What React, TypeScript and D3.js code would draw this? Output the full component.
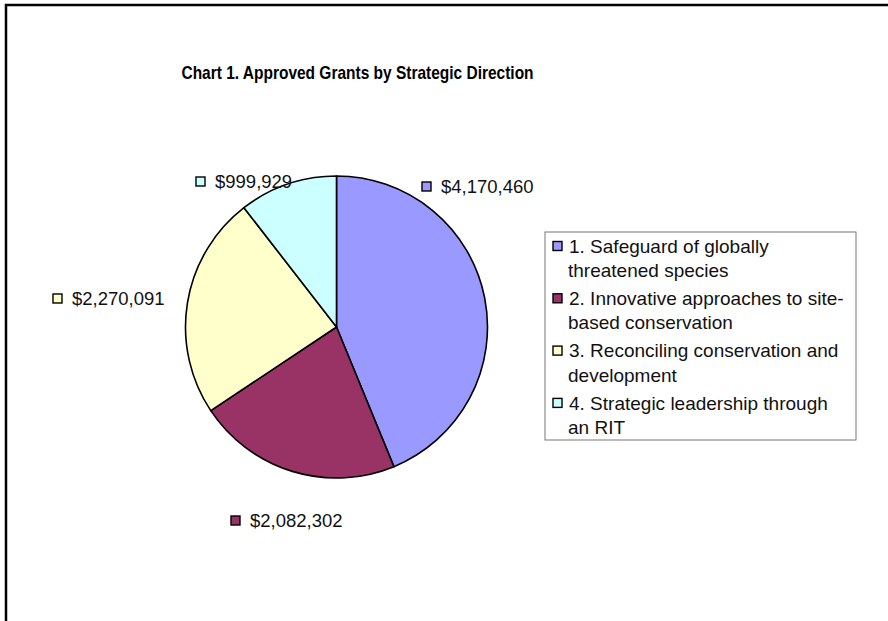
import * as d3 from "d3";

// Chart data
const categories = [
  "1. Safeguard of globally threatened species",
  "2. Innovative approaches to site-based conservation",
  "3. Reconciling conservation and development",
  "4. Strategic leadership through an RIT",
];
const legendLines = [
  ["1. Safeguard of globally", "threatened species"],
  ["2. Innovative approaches to site-", "based conservation"],
  ["3. Reconciling conservation and", "development"],
  ["4. Strategic leadership through", "an RIT"],
];
const values = [4170460, 2082302, 2270091, 999929];
const colors = ["#9999FF", "#993366", "#FFFFCC", "#CCFFFF"];

// where Excel put each data label (marker left edge, vertical center)
const labelPos: [number, number][] = [
  [422, 187],
  [231, 521],
  [53, 299],
  [196, 182],
];

const W = 888;
const H = 621;
const cx = 336.5;
const cy = 327;
const radius = 151;

const fmt = d3.format("$,");

export default function App() {
  const pie = d3
    .pie<number>()
    .sort(null)
    .value((d) => d);
  const arcs = pie(values);
  const arc = d3.arc<d3.PieArcDatum<number>>().innerRadius(0).outerRadius(radius);

  const legendX = 545;
  const legendY = 232;

  return (
    <div style={{ position: "absolute", left: 0, top: 0 }}>
      <svg width={W} height={H} style={{ display: "block", background: "#fff" }} fontFamily="Arial, 'Liberation Sans', sans-serif">
        {/* frame */}
        <path d={`M6,${H} V5 H${W}`} fill="none" stroke="#000" strokeWidth={2.5} />

        <g transform="translate(357.5,79) scale(0.885,1)">
          <text x={0} y={0} textAnchor="middle" fontSize={17.5} fontWeight="bold">
            Chart 1. Approved Grants by Strategic Direction
          </text>
        </g>

        <g transform={`translate(${cx},${cy})`}>
          {arcs.map((a, i) => (
            <path key={i} d={arc(a) || ""} fill={colors[i]} stroke="#000" strokeWidth={1.6} strokeLinejoin="round" />
          ))}
        </g>

        {/* data labels */}
        {values.map((v, i) => {
          const [lx, ly] = labelPos[i];
          return (
            <g key={i}>
              <rect x={lx} y={ly - 5} width={9} height={9} fill={colors[i]} stroke="#000" strokeWidth={1.4} />
              <text x={lx + 19} y={ly} dy="0.35em" fontSize={18.5} fill="#111">
                {fmt(v)}
              </text>
            </g>
          );
        })}

        {/* legend */}
        <rect x={legendX} y={legendY} width={311} height={208} fill="#fff" stroke="#777" strokeWidth={1} />
        {categories.map((c, i) => {
          const y0 = legendY + 14 + i * 52.3;
          return (
            <g key={c}>
              <rect x={553} y={y0 - 4.5} width={9} height={9} fill={colors[i]} stroke="#000" strokeWidth={1.4} />
              {legendLines[i].map((t, j) => (
                <text key={j} x={j === 0 ? 569 : 568} y={y0 + j * 24.5} dy="0.35em" fontSize={19} fill="#111">
                  {t}
                </text>
              ))}
            </g>
          );
        })}
      </svg>
    </div>
  );
}
